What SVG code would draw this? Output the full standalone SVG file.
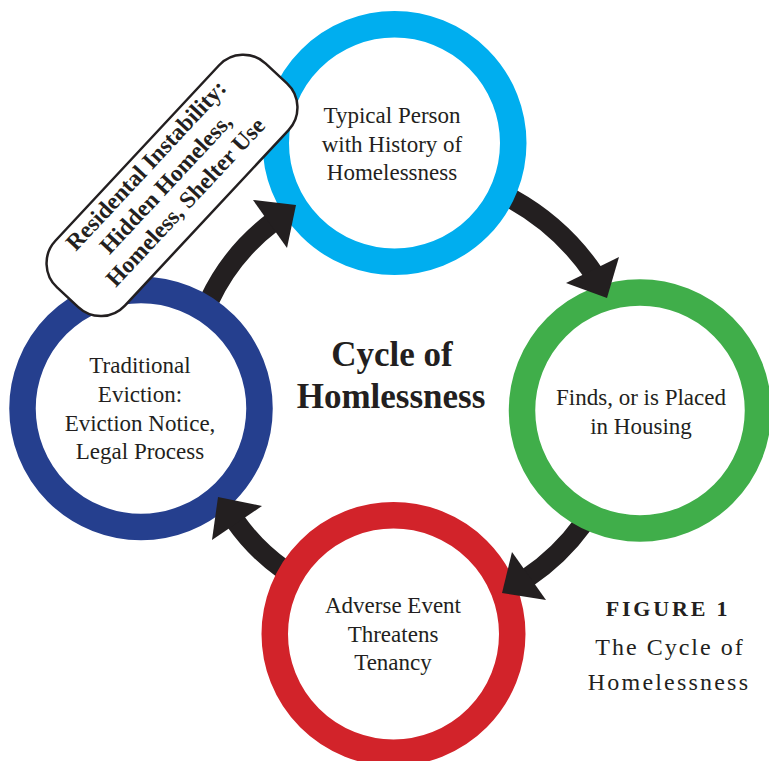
<svg xmlns="http://www.w3.org/2000/svg" width="769" height="761" viewBox="0 0 769 761">
<style>
.ring{fill:#fff;stroke-width:26.5}
.nt{font-family:"Liberation Serif","Times New Roman",serif;font-size:23px;fill:#231f20;text-anchor:middle}
.title{font-family:"Liberation Serif","Times New Roman",serif;font-size:35px;font-weight:bold;fill:#231f20;text-anchor:middle}
.lbl{font-family:"Liberation Serif","Times New Roman",serif;font-size:23.5px;font-weight:bold;fill:#231f20;text-anchor:middle}
.fig{font-family:"Liberation Serif","Times New Roman",serif;fill:#231f20;text-anchor:middle}
.shaft{fill:none;stroke:#231f20;stroke-width:20}
.head{fill:#231f20}
</style>
<rect width="769" height="761" fill="#fff"/>
<g id="connectors">
<path class="shaft" d="M 512 199 A 240 240 0 0 1 594 274"/>
<path class="shaft" d="M 583 524 A 222 222 0 0 1 527 578"/>
<path class="shaft" d="M 283 569 A 200 200 0 0 1 235 520.5"/>
<path class="shaft" d="M 209 301 A 212 212 0 0 1 272.5 222.3"/>
</g>
<g id="node-typical-person">
<circle class="ring" cx="394.5" cy="143" r="118.75" stroke="#00aeef"/>
<text class="nt" x="392" y="123">Typical Person</text>
<text class="nt" x="392" y="151.5">with History of</text>
<text class="nt" x="392" y="179.5">Homelessness</text>
</g>
<g id="node-housing">
<circle class="ring" cx="640" cy="410.5" r="118" stroke="#40ae4a"/>
<text class="nt" x="641" y="405">Finds, or is Placed</text>
<text class="nt" x="641" y="433.5">in Housing</text>
</g>
<g id="node-adverse-event">
<circle class="ring" cx="393.5" cy="634" r="118.75" stroke="#d2232a"/>
<text class="nt" x="393" y="613">Adverse Event</text>
<text class="nt" x="393" y="641.5">Threatens</text>
<text class="nt" x="393" y="669.5">Tenancy</text>
</g>
<g id="node-eviction">
<circle class="ring" cx="141" cy="408.5" r="118.5" stroke="#253f8e"/>
<text class="nt" x="140" y="373">Traditional</text>
<text class="nt" x="140" y="402">Eviction:</text>
<text class="nt" x="140" y="430.5">Eviction Notice,</text>
<text class="nt" x="140" y="459">Legal Process</text>
</g>
<g id="arrowheads">
<polygon class="head" points="566,283 607,298 619,257"/>
<polygon class="head" points="512,552 502,593 546,600"/>
<polygon class="head" points="262,506 218,497 212,540"/>
<polygon class="head" points="253,200 296,205 287,248"/>
</g>
<g id="node-residential-instability" transform="translate(172,185.4) rotate(-47)">
<rect x="-153" y="-47.5" width="306" height="95" rx="33" ry="33" fill="#fff" stroke="#231f20" stroke-width="2.5"/>
<text class="lbl" x="-3" y="-25">Residental Instability:</text>
<text class="lbl" x="-3" y="2">Hidden Homeless,</text>
<text class="lbl" x="-3" y="29">Homeless, Shelter Use</text>
</g>
<g id="center-title">
<text class="title" x="392" y="365.5">Cycle of</text>
<text class="title" x="391" y="408">Homlessness</text>
</g>
<g id="figure-caption">
<text class="fig" x="668" y="616" font-size="22" font-weight="bold" letter-spacing="2.8">FIGURE 1</text>
<text class="fig" x="670" y="655" font-size="24" letter-spacing="2">The Cycle of</text>
<text class="fig" x="669" y="690" font-size="24" letter-spacing="2.2">Homelessness</text>
</g>
</svg>
